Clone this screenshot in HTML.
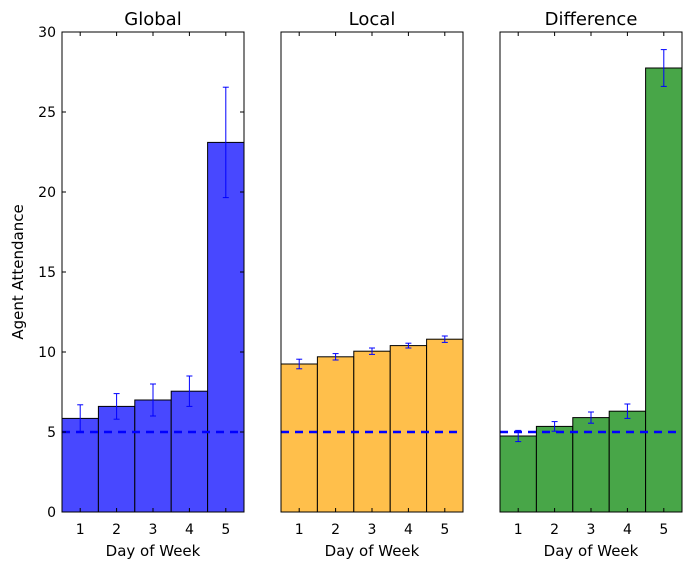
<!DOCTYPE html>
<html><head><meta charset="utf-8"><style>
body{margin:0;background:#fff;}
svg text{font-family:"DejaVu Sans","Liberation Sans",sans-serif;}
</style></head><body>
<svg id="chart" width="691" height="570" xmlns="http://www.w3.org/2000/svg"></svg>
<script>
const categories = [1, 2, 3, 4, 5];
const globalValues = [5.85, 6.6, 7.0, 7.55, 23.1];
const globalErrors = [0.85, 0.8, 1.0, 0.95, 3.45];
const localValues = [9.25, 9.7, 10.05, 10.4, 10.8];
const localErrors = [0.3, 0.2, 0.2, 0.15, 0.2];
const diffValues = [4.75, 5.35, 5.9, 6.3, 27.75];
const diffErrors = [0.35, 0.3, 0.35, 0.45, 1.15];
const yTicks = [0, 5, 10, 15, 20, 25, 30];
const baseline = 5;
const panelTitles = ["Global", "Local", "Difference"];

const svg = document.getElementById('chart');
const NS = 'http://www.w3.org/2000/svg';
function mk(tag, attrs, parent){const e=document.createElementNS(NS,tag);for(const k in attrs)e.setAttribute(k,attrs[k]);(parent||svg).appendChild(e);return e;}

const plotTop=32, plotBottom=512, yMax=30;
const yScale = v => plotBottom - (v / yMax) * (plotBottom - plotTop);
const panels = [
  {x0:62, vals:globalValues, errs:globalErrors, color:'#4848ff', name:'global'},
  {x0:281, vals:localValues, errs:localErrors, color:'#ffbf4b', name:'local'},
  {x0:500, vals:diffValues, errs:diffErrors, color:'#48a648', name:'difference'}
];
const W=182;

panels.forEach((p, pi) => {
  const g = mk('g', {});
  
  
  const xScale = v => p.x0 + (v - 0.5) / 5 * W;
  const bw = W / 5;
  categories.forEach((c, i) => {
    const r = mk('rect', {x:xScale(c-0.5), y:yScale(p.vals[i]), width:bw, height:yScale(0)-yScale(p.vals[i]), fill:p.color, stroke:'#000', 'stroke-width':1}, g);
    
    
  });
  const bl = mk('line', {x1:p.x0, x2:p.x0+W, y1:yScale(baseline), y2:yScale(baseline), stroke:'#0000ff', 'stroke-width':2.5, 'stroke-dasharray':'8,6'}, g);
  
  
  categories.forEach((c, i) => {
    const cx = xScale(c), hi = yScale(p.vals[i]+p.errs[i]), lo = yScale(p.vals[i]-p.errs[i]);
    const eg = mk('g', {stroke:'#0000ff', 'stroke-width':1}, g);
    
    
    mk('line', {x1:cx, x2:cx, y1:hi, y2:lo}, eg);
    mk('line', {x1:cx-3, x2:cx+3, y1:hi, y2:hi}, eg);
    mk('line', {x1:cx-3, x2:cx+3, y1:lo, y2:lo}, eg);
  });
  const fr = mk('rect', {x:p.x0, y:plotTop, width:W, height:plotBottom-plotTop, fill:'none', stroke:'#000', 'stroke-width':1}, g);
  
  
  categories.forEach(c => {
    const x = xScale(c);
    mk('line', {x1:x, x2:x, y1:plotBottom, y2:plotBottom-4, stroke:'#000'}, g);
    mk('line', {x1:x, x2:x, y1:plotTop, y2:plotTop+4, stroke:'#000'}, g);
    const t = mk('text', {x:x, y:plotBottom+22, 'font-size':14, 'text-anchor':'middle'}, g);
    t.textContent = c;
    
    
  });
  const xl = mk('text', {x:p.x0+W/2, y:556, 'font-size':15, 'text-anchor':'middle'}, g);
  xl.textContent = 'Day of Week';
  
  
  const tt = mk('text', {x:p.x0+W/2, y:25, 'font-size':18, 'text-anchor':'middle'}, g);
  tt.textContent = panelTitles[pi];
  
  
  if (pi === 0) {
    yTicks.forEach(v => {
      const y = yScale(v);
      mk('line', {x1:p.x0, x2:p.x0+4, y1:y, y2:y, stroke:'#000'}, g);
      mk('line', {x1:p.x0+W, x2:p.x0+W-4, y1:y, y2:y, stroke:'#000'}, g);
      const t = mk('text', {x:p.x0-6, y:y+5, 'font-size':14, 'text-anchor':'end'}, g);
      t.textContent = v;
      
      
    });
  }
});
const yl = mk('text', {x:0, y:0, 'font-size':15, 'text-anchor':'middle', transform:'translate(23,272) rotate(-90)'});
yl.textContent = 'Agent Attendance';


</script>
</body></html>
